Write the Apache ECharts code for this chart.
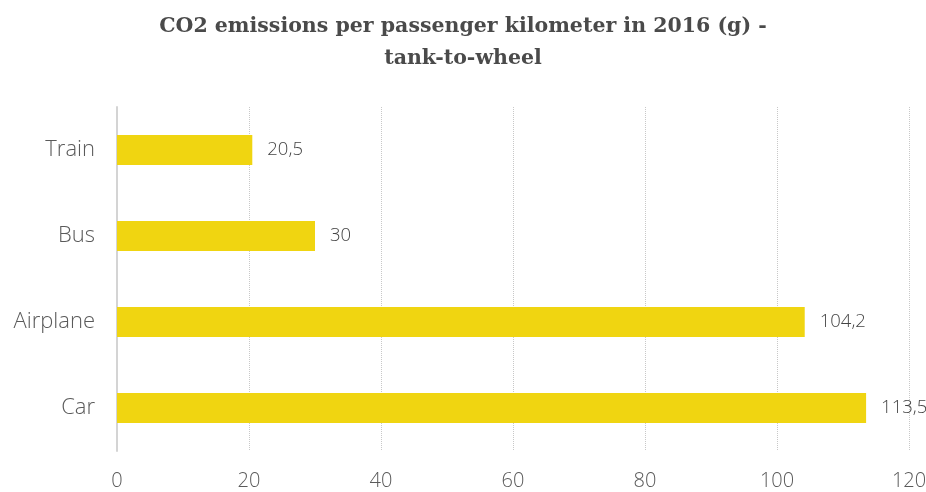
<!DOCTYPE html>
<html>
<head>
<meta charset="utf-8">
<script src="https://cdn.jsdelivr.net/npm/echarts@6/dist/echarts.min.js"></script>
<style>
  html, body { margin: 0; padding: 0; background: #fff; }
  #chart { width: 926px; height: 492px; }
</style>
</head>
<body>
<div id="chart"></div>
<script>
// Transport modes, top to bottom
const modes = ['Train', 'Bus', 'Airplane', 'Car'];
// Grams of CO2 per passenger kilometre (2016, tank-to-wheel)
const emissions = [20.5, 30, 104.2, 113.5];
// Value axis ticks
const axisMin = 0;
const axisMax = 120;
const axisStep = 20;

const chart = echarts.init(document.getElementById('chart'));
const lightFont = '"Open Sans", "Noto Sans", sans-serif';

chart.setOption({
  animation: false,
  title: {
    text: 'CO2 emissions per passenger kilometer in 2016 (g) -\ntank-to-wheel',
    left: 'center',
    top: 6,
    textStyle: {
      fontFamily: '"DejaVu Serif", serif',
      fontWeight: 'bold',
      fontSize: 20.5,
      lineHeight: 32,
      color: '#4a4a4a'
    }
  },
  grid: { left: 117, right: 17, top: 107, bottom: 41, outerBoundsMode: 'none' },
  xAxis: {
    type: 'value',
    min: axisMin,
    max: axisMax,
    interval: axisStep,
    axisLine: { show: false },
    axisTick: { show: false },
    splitLine: { lineStyle: { type: 'dotted', color: '#c8c8c8', width: 1 } },
    axisLabel: {
      margin: 20,
      fontFamily: lightFont,
      fontWeight: 300,
      fontSize: 20,
      color: '#5a5a5a'
    }
  },
  yAxis: {
    type: 'category',
    data: modes,
    inverse: true,
    axisLine: { show: true, lineStyle: { color: '#d4d4d4', width: 2 } },
    axisTick: { show: false },
    axisLabel: {
      margin: 22,
      fontFamily: lightFont,
      fontWeight: 300,
      fontSize: 22,
      color: '#5a5a5a'
    }
  },
  series: [{
    type: 'bar',
    data: emissions,
    barWidth: 30,
    itemStyle: { color: '#F0D511' },
    label: {
      show: true,
      position: 'right',
      distance: 15,
      fontFamily: lightFont,
      fontWeight: 300,
      fontSize: 18.5,
      color: '#444',
      formatter: p => String(p.value).replace('.', ',')
    }
  }]
});
</script>
</body>
</html>
